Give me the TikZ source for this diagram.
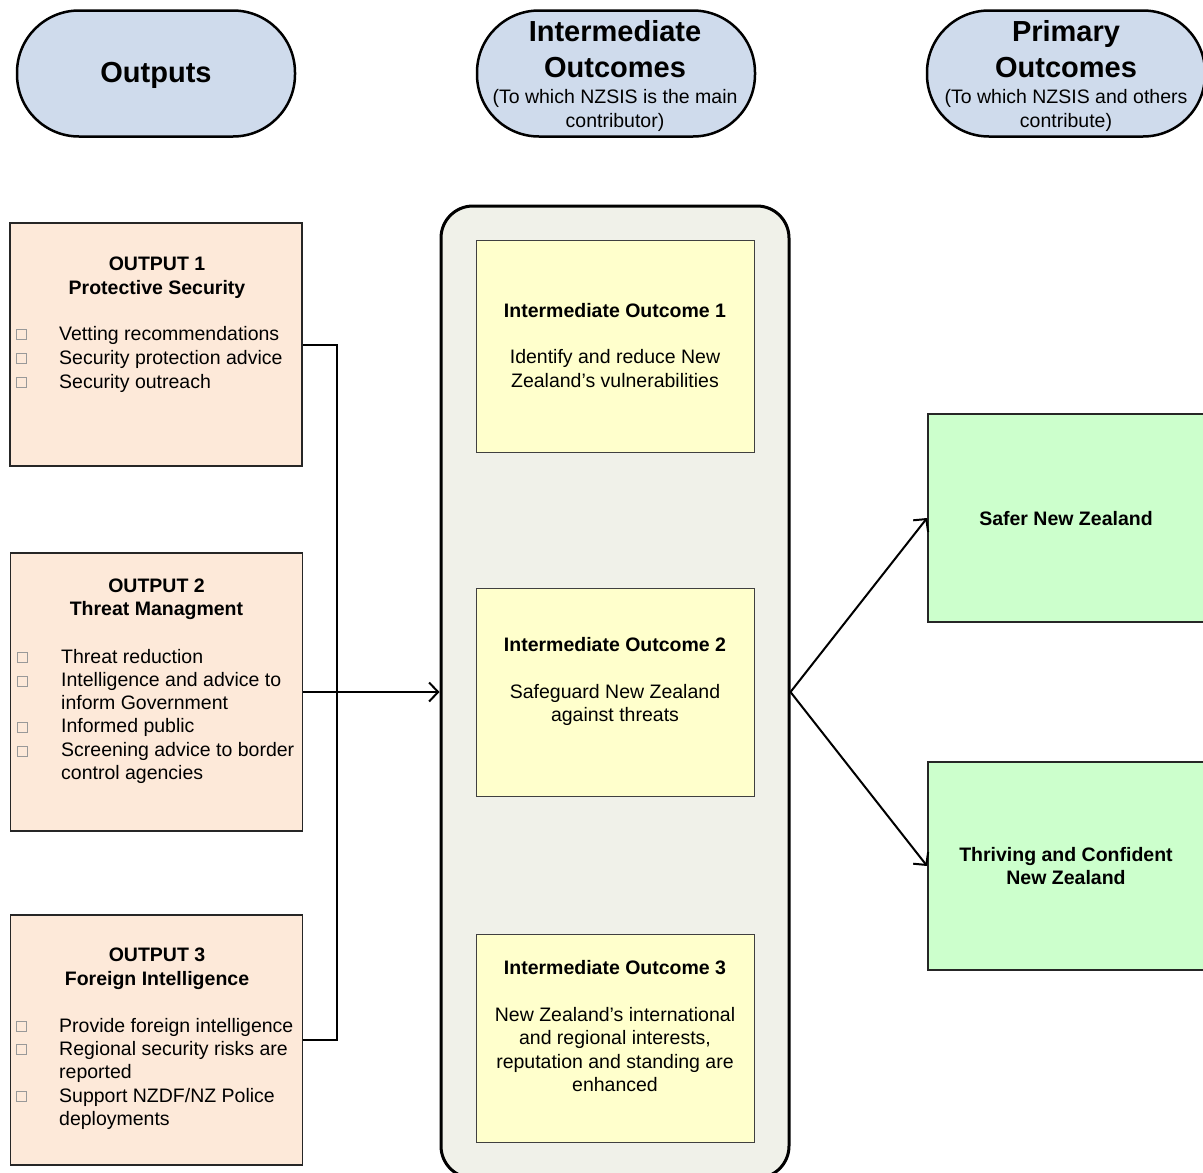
\documentclass[tikz,border=0pt]{standalone}
\usepackage{fontspec}
\setmainfont{Liberation Sans}
\usetikzlibrary{arrows.meta}
\definecolor{pillblue}{HTML}{CFDBEC}
\definecolor{peach}{HTML}{FDE9D9}
\definecolor{contgray}{HTML}{F0F1E9}
\definecolor{ylw}{HTML}{FFFFCC}
\definecolor{grn}{HTML}{CCFFCC}
\begin{document}
\begin{tikzpicture}[x=1pt,y=-1pt,
  pill/.style={draw=black,line width=2.5pt,fill=pillblue,rounded corners=62pt,minimum width=278pt,minimum height=126pt,inner sep=0pt},
  outbox/.style={draw=black!85,line width=1.8pt,fill=peach,minimum width=292pt,inner sep=0pt},
  iobox/.style={draw=black!75,line width=1pt,fill=ylw,minimum width=278pt,inner sep=0pt},
  gbox/.style={draw=black!85,line width=1.8pt,fill=grn,minimum width=277pt,minimum height=208pt,inner sep=0pt},
  contbox/.style={draw=black,line width=3pt,fill=contgray,rounded corners=32pt,minimum width=348pt,minimum height=972pt,inner sep=0pt},
  hd/.style={font=\fontsize{29}{36}\selectfont\bfseries,align=center,anchor=base,inner sep=0pt},
  sub/.style={font=\fontsize{19.5}{24}\selectfont,align=center,anchor=base,inner sep=0pt},
  ttl/.style={font=\fontsize{19.5}{24}\selectfont\bfseries,align=center,anchor=base,inner sep=0pt},
  body/.style={font=\fontsize{19.5}{23.5}\selectfont,align=center,anchor=base,inner sep=0pt},
  blist/.style={font=\fontsize{19.5}{23.4}\selectfont,align=left,anchor=base west,inner sep=0pt},
  bul/.style={draw=black!40,line width=0.8pt},
  conn/.style={line width=2pt},
  arr/.style={line width=2pt,-{Straight Barb[length=9pt,width=19pt]}}]
\useasboundingbox (0,0) rectangle (1203,1173);
\fill[white] (0,0) rectangle (1203,1173);

% header pills (text anchors are at the baseline of the last line)
\node[pill] (p1) at (156,73.5) {};
\node[pill] (p2) at (616,73.5) {};
\node[pill] (p3) at (1066,73.5) {};
\node[hd] (p1t) at (156,82) {Outputs};
\node[hd] (p2t) at (615,77) {Intermediate\\Outcomes};
\node[sub] (p2s) at (615,127) {(To which NZSIS is the main\\contributor)};
\node[hd] (p3t) at (1066,77) {Primary\\Outcomes};
\node[sub] (p3s) at (1066,127) {(To which NZSIS and others\\contribute)};

% output boxes
\node[outbox,minimum height=243pt] (o1) at (156,344.5) {};
\node[outbox,minimum height=278pt] (o2) at (156.5,692) {};
\node[outbox,minimum height=250pt] (o3) at (156.5,1040) {};

\node[ttl] (o1t) at (157,294) {OUTPUT 1\\Protective Security};
\node[blist,font=\fontsize{19.5}{24}\selectfont] (o1l) at (59,388) {Vetting recommendations\\Security protection advice\\Security outreach};
\node[ttl,font=\fontsize{19.5}{23.5}\selectfont\bfseries] (o2t) at (156.5,615.5) {OUTPUT 2\\Threat Managment};
\node[blist,font=\fontsize{19.5}{23.3}\selectfont] (o2l) at (61,779.5) {Threat reduction\\Intelligence and advice to\\inform Government\\Informed public\\Screening advice to border\\control agencies};
\node[ttl] (o3t) at (157,985) {OUTPUT 3\\Foreign Intelligence};
\node[blist] (o3l) at (59,1125.6) {Provide foreign intelligence\\Regional security risks are\\reported\\Support NZDF/NZ Police\\deployments};

\foreach \yy in {340,364,388,1032,1055,1102}
  \draw[bul] (16,\yy-11) rectangle (26,\yy-1);
\foreach \yy in {663,687,733,757}
  \draw[bul] (17,\yy-11) rectangle (27,\yy-1);

% container and intermediate outcomes
\node[contbox] (cont) at (615,692) {};
\node[iobox,minimum height=212pt] (io1) at (615,346) {};
\node[iobox,minimum height=208pt] (io2) at (615,692) {};
\node[iobox,minimum height=208pt] (io3) at (615,1038) {};
\node[ttl] (io1t) at (615,317) {Intermediate Outcome 1};
\node[body] (io1b) at (615,387) {Identify and reduce New\\Zealand’s vulnerabilities};
\node[ttl] (io2t) at (615,651) {Intermediate Outcome 2};
\node[body] (io2b) at (615,721.5) {Safeguard New Zealand\\against threats};
\node[ttl] (io3t) at (615,974) {Intermediate Outcome 3};
\node[body] (io3b) at (615,1091.5) {New Zealand’s international\\and regional interests,\\reputation and standing are\\enhanced};

% primary outcomes
\node[gbox] (g1) at (1066.5,518) {};
\node[gbox] (g2) at (1066.5,866) {};
\node[ttl] (g1t) at (1066,525) {Safer New Zealand};
\node[ttl,font=\fontsize{19.5}{23}\selectfont\bfseries] (g2t) at (1066,884) {Thriving and Confident\\New Zealand};

% connectors
\coordinate (bus) at (337,692);
\draw[conn] (o1.east) -| (bus) |- (o3.east);
\draw[arr] (o2.east) -- (cont.west);
\draw[arr] (cont.east) -- (g1.west);
\draw[arr] (cont.east) -- (g2.west);
\end{tikzpicture}
\end{document}
